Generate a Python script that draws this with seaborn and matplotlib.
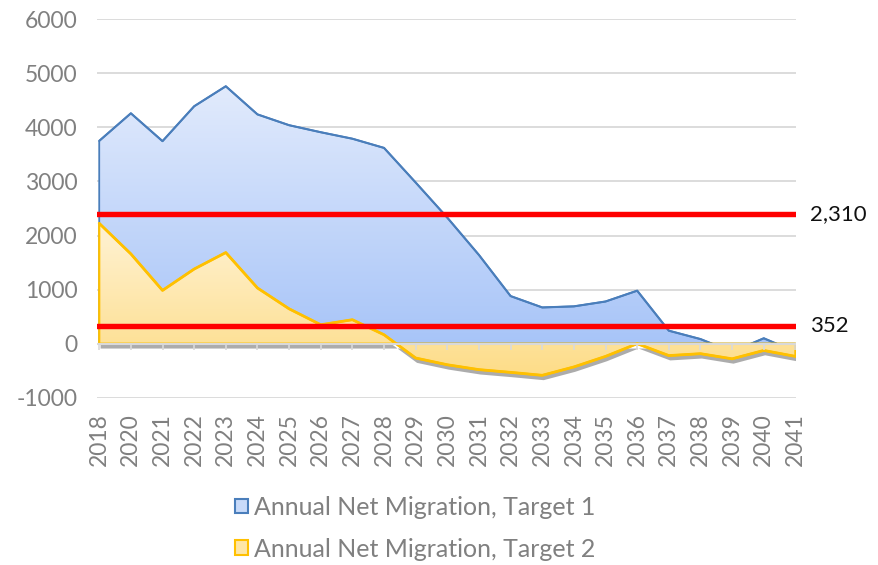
import numpy as np
import matplotlib
matplotlib.use("Agg")
import matplotlib.pyplot as plt
import matplotlib.transforms as mtransforms
from matplotlib.colors import LinearSegmentedColormap
from matplotlib.patches import PathPatch, Patch
import seaborn as sns

# data
years = ["2018", "2020", "2021", "2022", "2023", "2024", "2025", "2026", "2027",
         "2028", "2029", "2030", "2031", "2032", "2033", "2034", "2035", "2036",
         "2037", "2038", "2039", "2040", "2041"]
target1 = [3750, 4260, 3745, 4390, 4760, 4240, 4040, 3910, 3790, 3620, 2980, 2330,
           1640, 880, 670, 690, 780, 980, 240, 85, -150, 100, -150]
target2 = [2225, 1660, 985, 1380, 1685, 1030, 645, 350, 443, 165, -265, -390,
           -480, -530, -585, -430, -235, 0, -220, -185, -280, -125, -235]
ref_levels = [2400, 332]
ref_labels = ["2,310", "352"]
series_names = ["Annual Net Migration, Target 1", "Annual Net Migration, Target 2"]

sns.set_style("white")
plt.rcParams["font.family"] = ["Lato", "DejaVu Sans"]
plt.rcParams["axes.unicode_minus"] = False

fig = plt.figure(figsize=(8.79, 5.65), dpi=100)
ax = fig.add_axes([0.110, 0.296, 0.796, 0.670])
x = np.arange(len(years))


def gradient_area(ax, y, top, bottom, edge, lw, z, ytop, ybot, shadow=False):
    poly = ax.fill_between(x, y, 0, facecolor="none", edgecolor=edge, lw=lw, zorder=z + 0.2)
    path = poly.get_paths()[0]
    if shadow:
        off = ax.transData + mtransforms.ScaledTranslation(1 / 72, -3.5 / 72, fig.dpi_scale_trans)
        ax.add_patch(PathPatch(path, transform=off, facecolor="#5a5a5a", edgecolor="none",
                               alpha=0.5, zorder=z - 0.1))
    clip = PathPatch(path, transform=ax.transData, facecolor="none", edgecolor="none")
    ax.add_patch(clip)
    cmap = LinearSegmentedColormap.from_list("g", [top, bottom])
    im = ax.imshow(np.linspace(0, 1, 256).reshape(-1, 1), cmap=cmap, aspect="auto",
                   extent=[x[0], x[-1], ybot, ytop], origin="upper", zorder=z)
    im.set_clip_path(clip)


gradient_area(ax, target1, "#e2ebfc", "#a4c2f8", "#4a7ebb", 1.3, 1, 4800, -300)
sns.lineplot(x=x, y=target1, ax=ax, color="#4a7ebb", lw=1.5, zorder=2)
gradient_area(ax, target2, "#fff3d6", "#fddc86", "#ffc000", 1.6, 3, 2300, -650, shadow=True)
sns.lineplot(x=x, y=target2, ax=ax, color="#ffc000", lw=2, zorder=4)

# axis line at zero with small category ticks
ax.axhline(0, color="#d9d9d9", lw=1.5, zorder=5)
ax.vlines(x, -110, 0, color="#d9d9d9", lw=1.2, zorder=5)

# reference lines
for lvl, lab in zip(ref_levels, ref_labels):
    ax.axhline(lvl, color="#ff0000", lw=3.9, zorder=6)
    ax.text(1.02, lvl, lab, transform=ax.get_yaxis_transform(), ha="left", va="center",
            fontsize=16, color="#111111")

ax.set_xlim(-0.08, len(years) - 1 + 0.03)
ax.set_ylim(-1000, 6000)
ax.set_yticks(range(-1000, 6001, 1000))
ax.set_xticks(x)
ax.set_xticklabels(years, rotation=90)
ax.yaxis.grid(True, color="#d9d9d9", lw=1.3, zorder=0)
ax.set_axisbelow(True)
ax.tick_params(axis="y", length=0, pad=14, labelsize=16.5, labelcolor="#808080")
ax.tick_params(axis="x", length=0, pad=11, labelsize=16.5, labelcolor="#808080")
for s in ax.spines.values():
    s.set_visible(False)

handles = [Patch(facecolor="#c8daf9", edgecolor="#4a7ebb", lw=1.5),
           Patch(facecolor="#fee6a6", edgecolor="#ffc000", lw=1.5)]
fig.legend(handles, series_names, loc="center", bbox_to_anchor=(0.472, 0.065),
           frameon=False, fontsize=18, labelcolor="#808080", handlelength=0.52,
           handleheight=0.52, handletextpad=0.25, labelspacing=0.74)

fig.savefig("out.png", dpi=100)
